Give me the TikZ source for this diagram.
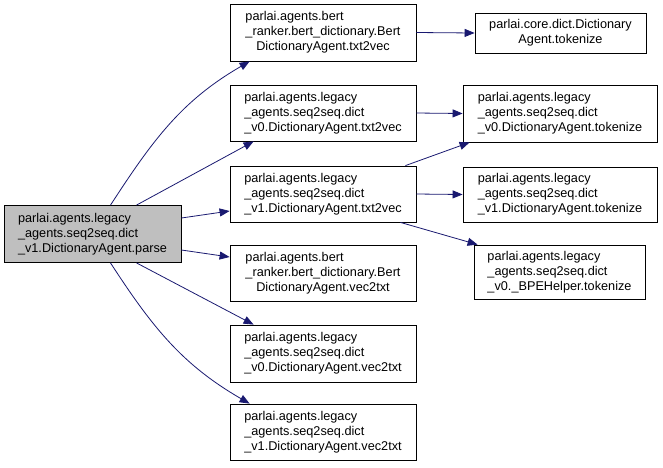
\documentclass[tikz,border=0pt]{standalone}
\usepackage{fontspec}
\setmainfont{Liberation Sans}
\usetikzlibrary{arrows.meta}
\definecolor{edgeblue}{HTML}{191970}
\definecolor{rootgray}{HTML}{BFBFBF}
% three lines: first two left, last one centred
\newcommand{\fnlbl}[3]{\begin{tabular}{@{}l@{}}#1\\#2\\\multicolumn{1}{@{}c@{}}{#3}\end{tabular}}
\newcommand{\fnlblii}[2]{\begin{tabular}{@{}c@{}}#1\\#2\end{tabular}}
\tikzset{
  fnbox/.style={draw=black, line width=0.8pt, inner sep=0pt, font=\fontsize{12.7}{15}\selectfont},
  edge/.style={->, draw=edgeblue, line width=0.8pt},
}
\begin{document}
\begin{tikzpicture}[x=1pt, y=-1pt, >={Triangle[length=10pt,width=8pt]}]
\useasboundingbox (0,0) rectangle (663,467);
\node[fnbox, fill=rootgray, minimum width=177pt, minimum height=57pt] (root) at (92.5,234)
  {\fnlbl{parlai.agents.legacy}{\_agents.seq2seq.dict}{\_v1.DictionaryAgent.parse}};
\node[fnbox, minimum width=186pt, minimum height=57pt] (bt) at (323,32.5)
  {\fnlbl{parlai.agents.bert}{\_ranker.bert\_dictionary.Bert}{DictionaryAgent.txt2vec}};
\node[fnbox, minimum width=186pt, minimum height=56pt] (v0t) at (323,113)
  {\fnlbl{parlai.agents.legacy}{\_agents.seq2seq.dict}{\_v0.DictionaryAgent.txt2vec}};
\node[fnbox, minimum width=186pt, minimum height=56pt] (v1t) at (323,194)
  {\fnlbl{parlai.agents.legacy}{\_agents.seq2seq.dict}{\_v1.DictionaryAgent.txt2vec}};
\node[fnbox, minimum width=186pt, minimum height=56pt] (bv) at (323,273)
  {\fnlbl{parlai.agents.bert}{\_ranker.bert\_dictionary.Bert}{DictionaryAgent.vec2txt}};
\node[fnbox, minimum width=186pt, minimum height=57pt] (v0v) at (323,353.5)
  {\fnlbl{parlai.agents.legacy}{\_agents.seq2seq.dict}{\_v0.DictionaryAgent.vec2txt}};
\node[fnbox, minimum width=186pt, minimum height=56pt] (v1v) at (323,432)
  {\fnlbl{parlai.agents.legacy}{\_agents.seq2seq.dict}{\_v1.DictionaryAgent.vec2txt}};
\node[fnbox, minimum width=171pt, minimum height=40pt] (core) at (560.5,33)
  {\fnlblii{parlai.core.dict.Dictionary}{Agent.tokenize}};
\node[fnbox, minimum width=194pt, minimum height=57pt] (v0k) at (560,113.5)
  {\fnlbl{parlai.agents.legacy}{\_agents.seq2seq.dict}{\_v0.DictionaryAgent.tokenize}};
\node[fnbox, minimum width=194pt, minimum height=55pt] (v1k) at (560,194.5)
  {\fnlbl{parlai.agents.legacy}{\_agents.seq2seq.dict}{\_v1.DictionaryAgent.tokenize}};
\node[fnbox, minimum width=171pt, minimum height=54pt] (bpe) at (559.5,272)
  {\fnlbl{parlai.agents.legacy}{\_agents.seq2seq.dict}{\_v0.\_BPEHelper.tokenize}};
% calls from parse
\draw[edge] ([xshift=18pt]root.north) to[out=57, in=-150] ([xshift=20pt]bt.south west);
\draw[edge] ([xshift=44pt]root.north) -- ([xshift=24pt]v0t.south west);
\draw[edge] ([yshift=16pt]root.east) -- ([yshift=-17pt]v1t.west);
\draw[edge] ([yshift=-16pt]root.east) -- ([yshift=16pt]bv.west);
\draw[edge] ([xshift=44pt]root.south) -- ([xshift=24pt]v0v.north west);
\draw[edge] ([xshift=18pt]root.south) to[out=-57, in=150] ([xshift=20pt]v1v.north west);
% tokenize calls
\draw[edge] (bt.east) -- (core.west);
\draw[edge] (v0t.east) -- (v0k.west);
\draw[edge] ([xshift=-11pt]v1t.north east) -- ([xshift=7pt]v0k.south west);
\draw[edge] (v1t.east) -- (v1k.west);
\draw[edge] ([xshift=-16pt]v1t.south east) -- ([xshift=4pt]bpe.north west);
\end{tikzpicture}
\end{document}
